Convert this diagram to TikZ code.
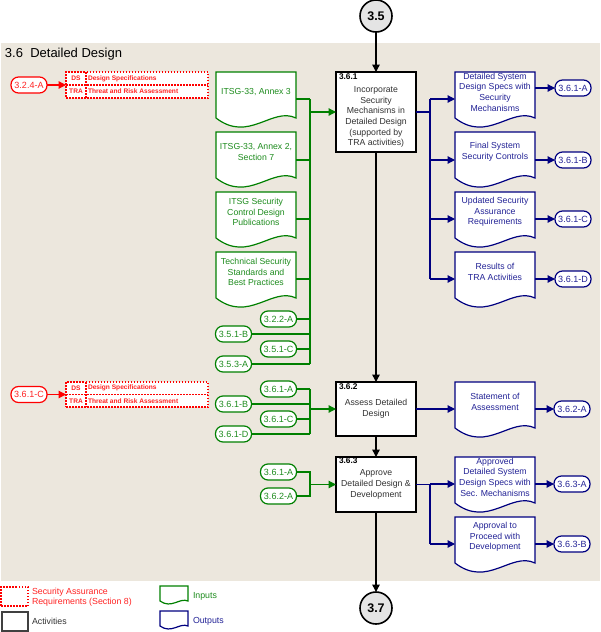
\documentclass[tikz,border=0pt]{standalone}
\usepackage{fontspec}
\setmainfont{Liberation Sans}
\usetikzlibrary{arrows.meta,calc}
\pgfdeclarelayer{back}
\pgfdeclarelayer{docs}
\pgfsetlayers{back,docs,main}
\definecolor{bgbeige}{RGB}{236,231,221}
\definecolor{ingreen}{RGB}{0,128,0}
\definecolor{ingreentext}{RGB}{30,140,30}
\definecolor{outblue}{RGB}{0,0,128}
\definecolor{outbluetext}{RGB}{35,35,150}
\definecolor{sarred}{RGB}{255,0,0}
\definecolor{sarredtext}{RGB}{255,35,35}
\definecolor{acttext}{RGB}{50,50,50}
\definecolor{circfill}{RGB}{228,228,228}
\newcommand{\docw}{80}
\newcommand{\doch}{40}
\newcommand{\docext}{6}
\newcommand{\docnode}[5]{%
  \node[doctext, text=#1text, anchor=north west, minimum width=\docw, minimum height=\doch] (#2) at (#3,#4) {#5};
  \begin{pgfonlayer}{docs}
  \path (#2.south east) ++(0,\docext) coordinate (#2-se);
  \path (#2.south west) ++(0,\docext) coordinate (#2-sw);
  \draw[docline, draw=#1] (#2.north west) -- (#2.north east) -- (#2-se)
    .. controls ($(#2-se)+(-0.3*\docw,-0.25*\doch-0.25*\docext)$) and ($(#2-sw)+(0.41*\docw,0.55*\doch+0.55*\docext)$) .. (#2-sw) -- cycle;
  \end{pgfonlayer}}
\tikzset{
  every node/.style={inner sep=0pt, outer sep=0pt},
  arr/.style={-{Triangle[length=7.5pt,width=7.5pt]}},
  blk/.style={draw=black, line width=1.4pt},
  grn/.style={draw=ingreen, line width=1.2pt},
  blu/.style={draw=outblue, line width=1.2pt},
  redl/.style={draw=sarred, line width=1.2pt},
  doctext/.style={align=center, font=\fontsize{8.7}{10.7}\selectfont},
  docline/.style={line width=1.2pt, fill=white},
  actbox/.style={draw=black, line width=1.3pt, fill=white, minimum width=80},
  actlbl/.style={anchor=north west, font=\bfseries\fontsize{8.3}{10}\selectfont, text=black},
  actbody/.style={align=center, font=\fontsize{8.7}{10.7}\selectfont, text=acttext},
  oval/.style={rounded corners=7.5pt, line width=1.2pt, fill=white, minimum width=36, minimum height=16, font=\fontsize{9}{10}\selectfont},
  inoval/.style={oval, draw=ingreen, text=ingreentext},
  outoval/.style={oval, draw=outblue, text=outbluetext},
  redoval/.style={oval, draw=sarred, text=sarredtext},
  sarbox/.style={draw=sarred, dash pattern=on 1.5pt off 1.5pt, line width=1.2pt, fill=white, anchor=north west, minimum width=142},
  sarsep/.style={draw=sarred, dash pattern=on 1.5pt off 1.5pt, line width=1.2pt},
  sartext/.style={font=\bfseries\fontsize{6.6}{8}\selectfont, text=sarredtext},
  circ/.style={circle, draw=black, line width=1.6pt, fill=circfill, minimum size=32, font=\bfseries\fontsize{12.5}{14}\selectfont},
  legtext/.style={anchor=west, align=left, font=\fontsize{8.8}{10.5}\selectfont},
}
\begin{document}
\begin{tikzpicture}[x=1pt,y=-1pt]
\useasboundingbox (0,0) rectangle (600,632);
\begin{pgfonlayer}{back}
\fill[bgbeige] (1,43) rectangle (600,581);
\end{pgfonlayer}
\node[anchor=west, font=\fontsize{13}{15}\selectfont] (title) at (5,54) {3.6\ \ Detailed Design};

% connectors circles and activities
\node[circ] (c35) at (376,16) {3.5};
\node[circ] (c37) at (376,608) {3.7};
\node[actbox, minimum height=80, anchor=north west] (a361) at (336,72) {};
\node[actlbl] (a361l) at ($(a361.north west)+(3,2)$) {3.6.1};
\node[actbody] (a361b) at ($(a361.center)+(0,5)$) {Incorporate\\Security\\Mechanisms in\\Detailed Design\\(supported by\\TRA activities)};
\node[actbox, minimum height=54, anchor=north west] (a362) at (336,382) {};
\node[actlbl] (a362l) at ($(a362.north west)+(3,2)$) {3.6.2};
\node[actbody] (a362b) at ($(a362.center)+(0,0)$) {Assess Detailed\\Design};
\node[actbox, minimum height=55, anchor=north west] (a363) at (336,457) {};
\node[actlbl] (a363l) at ($(a363.north west)+(3,1)$) {3.6.3};
\node[actbody] (a363b) at ($(a363.center)+(0,0)$) {Approve\\Detailed Design \&\\Development};
\draw[blk, arr] (c35) -- (a361);
\draw[blk, arr] (a361) -- (a362);
\draw[blk, arr] (a362) -- (a363);
\draw[blk, arr] (a363) -- (c37);

% red SAR tables
\node[redoval] (r324A) at (29,85) {3.2.4-A};
\node[sarbox, minimum height=26] (sar1) at (66,72) {};
\draw[sarsep] (sar1.west) -- (sar1.east);
\draw[sarsep] ([xshift=20pt]sar1.north west) -- ([xshift=20pt]sar1.south west);
\node[sartext] (sar1a) at ($(sar1.north west)+(10,6.5)$) {DS};
\node[sartext, anchor=west] (sar1b) at ($(sar1.north west)+(22,6.5)$) {Design Specifications};
\node[sartext] (sar1c) at ($(sar1.north west)+(10,19.5)$) {TRA};
\node[sartext, anchor=west] (sar1d) at ($(sar1.north west)+(22,19.5)$) {Threat and Risk Assessment};
\draw[redl, arr] (r324A) -- (sar1);

\node[redoval] (r361C) at (29,394.5) {3.6.1-C};
\node[sarbox, minimum height=25] (sar2) at (66,382) {};
\draw[sarsep] (sar2.west) -- (sar2.east);
\draw[sarsep] ([xshift=20pt]sar2.north west) -- ([xshift=20pt]sar2.south west);
\node[sartext] (sar2a) at ($(sar2.north west)+(10,6.3)$) {DS};
\node[sartext, anchor=west] (sar2b) at ($(sar2.north west)+(22,6.3)$) {Design Specifications};
\node[sartext] (sar2c) at ($(sar2.north west)+(10,18.8)$) {TRA};
\node[sartext, anchor=west] (sar2d) at ($(sar2.north west)+(22,18.8)$) {Threat and Risk Assessment};
\draw[redl, arr] (r361C) -- (sar2);

% green inputs to 3.6.1
\docnode{ingreen}{i1}{216}{72}{ITSG-33, Annex 3}
\docnode{ingreen}{i2}{216}{132}{ITSG-33, Annex 2,\\Section 7}
\docnode{ingreen}{i3}{216}{192}{ITSG Security\\Control Design\\Publications}
\docnode{ingreen}{i4}{216}{252}{Technical Security\\Standards and\\Best Practices}
\node[inoval] (g322A) at (278.5,319) {3.2.2-A};
\node[inoval] (g351B) at (233.5,334) {3.5.1-B};
\node[inoval] (g351C) at (278.5,349) {3.5.1-C};
\node[inoval] (g353A) at (233.5,364) {3.5.3-A};
\coordinate (gb1) at (310,99);
\coordinate (gb2) at (310,160);
\coordinate (gb3) at (310,219);
\coordinate (gb4) at (310,279);
\draw[grn] (gb1) -- (g353A.east -| gb1);
\draw[grn] (gb1 -| i1.east) -- (gb1);
\draw[grn] (gb2 -| i2.east) -- (gb2);
\draw[grn] (gb3 -| i3.east) -- (gb3);
\draw[grn] (gb4 -| i4.east) -- (gb4);
\draw[grn] (g322A.east) -- (g322A.east -| gb1);
\draw[grn] (g351B.east) -- (g351B.east -| gb1);
\draw[grn] (g351C.east) -- (g351C.east -| gb1);
\draw[grn] (g353A.east) -- (g353A.east -| gb1);
\draw[grn, arr] (a361.west -| gb1) -- (a361.west);

% green inputs to 3.6.2
\node[inoval] (g361A) at (278.5,389) {3.6.1-A};
\node[inoval] (g361B) at (233.5,404) {3.6.1-B};
\node[inoval] (g361C) at (278.5,419) {3.6.1-C};
\node[inoval] (g361D) at (233.5,434) {3.6.1-D};
\draw[grn] (g361A.east -| gb1) -- (g361D.east -| gb1);
\draw[grn] (g361A.east) -- (g361A.east -| gb1);
\draw[grn] (g361B.east) -- (g361B.east -| gb1);
\draw[grn] (g361C.east) -- (g361C.east -| gb1);
\draw[grn] (g361D.east) -- (g361D.east -| gb1);
\draw[grn, arr] (a362.west -| gb1) -- (a362.west);

% green inputs to 3.6.3
\node[inoval] (h361A) at (278.5,472) {3.6.1-A};
\node[inoval] (h362A) at (278.5,496) {3.6.2-A};
\draw[grn] (h361A.east) -- (h361A.east -| gb1) -- (h362A.east -| gb1) -- (h362A.east);
\draw[grn, arr] (a363.west -| gb1) -- (a363.west);

% blue outputs of 3.6.1
\docnode{outblue}{o1}{455}{72}{Detailed System\\Design Specs with\\Security\\Mechanisms}
\docnode{outblue}{o2}{455}{132}{Final System\\Security Controls}
\docnode{outblue}{o3}{455}{192}{Updated Security\\Assurance\\Requirements}
\docnode{outblue}{o4}{455}{252}{Results of\\TRA Activities}
\node[outoval] (x361A) at (573,88) {3.6.1-A};
\node[outoval] (x361B) at (573,160) {3.6.1-B};
\node[outoval] (x361C) at (573,219) {3.6.1-C};
\node[outoval] (x361D) at (573,279) {3.6.1-D};
\coordinate (bb1) at (430,99);
\coordinate (bb2) at (430,160);
\coordinate (bb3) at (430,219);
\coordinate (bb4) at (430,279);
\draw[blu] (a361.east) -- (a361.east -| bb1);
\draw[blu] (bb1) -- (bb4);
\draw[blu, arr] (bb1) -- (bb1 -| o1.west);
\draw[blu, arr] (bb2) -- (bb2 -| o2.west);
\draw[blu, arr] (bb3) -- (bb3 -| o3.west);
\draw[blu, arr] (bb4) -- (bb4 -| o4.west);
\draw[blu, arr] (o1.east |- x361A) -- (x361A);
\draw[blu, arr] (o2.east |- x361B) -- (x361B);
\draw[blu, arr] (o3.east |- x361C) -- (x361C);
\draw[blu, arr] (o4.east |- x361D) -- (x361D);

% blue outputs of 3.6.2
\docnode{outblue}{o5}{455}{382}{Statement of\\Assessment}
\node[outoval] (x362A) at (572,409) {3.6.2-A};
\draw[blu, arr] (a362.east) -- (a362.east -| o5.west);
\draw[blu, arr] (o5.east |- x362A) -- (x362A);

% blue outputs of 3.6.3
\docnode{outblue}{o6}{455}{457}{Approved\\Detailed System\\Design Specs with\\Sec. Mechanisms}
\docnode{outblue}{o7}{455}{517}{Approval to\\Proceed with\\Development}
\node[outoval] (x363A) at (572,484) {3.6.3-A};
\node[outoval] (x363B) at (572,544) {3.6.3-B};
\coordinate (bb6) at (430,484);
\coordinate (bb7) at (430,544);
\draw[blu] (a363.east) -- (a363.east -| bb6);
\draw[blu] (bb6) -- (bb7);
\draw[blu, arr] (bb6) -- (bb6 -| o6.west);
\draw[blu, arr] (bb7) -- (bb7 -| o7.west);
\draw[blu, arr] (o6.east |- x363A) -- (x363A);
\draw[blu, arr] (o7.east |- x363B) -- (x363B);

% legend
\node[sarbox, minimum width=27, minimum height=19] (lsar) at (1,587) {};
\node[legtext, text=sarredtext] (lsart) at (32,597) {Security Assurance\\Requirements (Section 8)};
\node[draw=black!75, line width=2pt, fill=white, anchor=north west, minimum width=26, minimum height=19] (lact) at (2,612) {};
\node[legtext, text=acttext] (lactt) at (32,621) {Activities};
\renewcommand{\docw}{28}
\renewcommand{\doch}{12}
\renewcommand{\docext}{3}
\docnode{ingreen}{lin}{160}{586}{}
\docnode{outblue}{lout}{160}{611}{}
\node[legtext, text=ingreentext] (lint) at (193,596) {Inputs};
\node[legtext, text=outbluetext] (loutt) at (193,621) {Outputs};
\end{tikzpicture}
\end{document}
